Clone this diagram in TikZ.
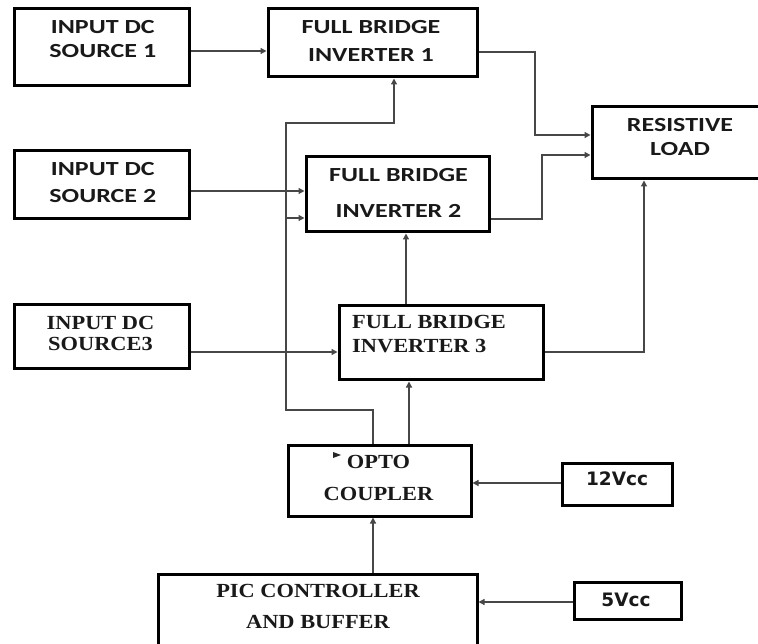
\documentclass[tikz,border=0pt]{standalone}
\usepackage{fontspec}
\usetikzlibrary{arrows.meta}
\newfontfamily\calfont[FakeStretch=1.3]{Carlito}
\newfontfamily\tmsfont[FakeStretch=1.12]{Liberation Serif}
\newfontfamily\vrdfont{DejaVu Sans}
\begin{document}
\begin{tikzpicture}[x=1pt,y=-1pt,
  box/.style={draw=black, line width=3pt, inner sep=0pt, rectangle},
  caltxt/.style={font={\calfont\bfseries\fontsize{20}{#1}\selectfont}, align=center, inner sep=0pt, text=black!90},
  tmstxt/.style={font={\tmsfont\bfseries\fontsize{20}{#1}\selectfont}, align=center, inner sep=0pt, text=black!90},
  vrdtxt/.style={font={\vrdfont\bfseries\fontsize{18.5}{22}\selectfont}, inner sep=0pt, text=black!90},
  conn/.style={draw=black!72, line width=1.3pt},
  arr/.style={conn, -{Triangle[length=6pt,width=6pt]}}
]
\useasboundingbox (0,0) rectangle (758,644);

% boxes
\node[box, minimum width=175pt, minimum height=77pt] (src1) at (101.5,47.5) {};
\node[box, minimum width=209pt, minimum height=68pt] (fb1) at (372.5,43) {};
\node[box, minimum width=175pt, minimum height=68pt] (src2) at (101.5,185) {};
\node[box, minimum width=183pt, minimum height=75pt] (fb2) at (397.5,194.5) {};
\node[box, minimum width=178pt, minimum height=72pt] (rl) at (681,143) {};
\node[box, minimum width=175pt, minimum height=64pt] (src3) at (101.5,337) {};
\node[box, minimum width=204pt, minimum height=74pt] (fb3) at (441,343) {};
\node[box, minimum width=183pt, minimum height=71pt] (opto) at (379.5,480.5) {};
\node[box, minimum width=110pt, minimum height=42pt] (v12) at (617,484) {};
\node[box, minimum width=319pt, minimum height=76pt] (pic) at (317.5,612) {};
\node[box, minimum width=107pt, minimum height=37pt] (v5) at (627.5,600.5) {};

% texts
\node[caltxt=24] (t1) at (102.8,39.5) {INPUT DC\\SOURCE 1};
\node[caltxt=28] (t2) at (371,41) {FULL BRIDGE\\INVERTER 1};
\node[caltxt=27] (t3) at (102.8,182.5) {INPUT DC\\SOURCE 2};
\node[caltxt=36] (t4) at (398.5,193) {FULL BRIDGE\\INVERTER 2};
\node[caltxt=23.5] (t5) at (680,137) {RESISTIVE\\LOAD};
\node[tmstxt=21] (t6) at (100.5,333) {INPUT DC\\SOURCE3};
\node[tmstxt=23.5, align=left, anchor=west] (t7) at (352,334) {FULL BRIDGE\\INVERTER 3};
\node[tmstxt=32] (t8) at (378.5,478) {OPTO\\COUPLER};
\node[tmstxt=31] (t9) at (318,606) {PIC CONTROLLER\\AND BUFFER};
\node[vrdtxt] (t10) at (617,479) {12Vcc};
\node[vrdtxt] (t11) at (626,600) {5Vcc};

% stray marker in opto box
\fill[black!85] (333,452) -- (341,455) -- (333,458) -- cycle;

% connectors
\draw[arr] (src1.east |- 0,51) -- (fb1.west |- 0,51);
\draw[arr] (src2.east |- 0,191) -- (fb2.west |- 0,191);
\draw[arr] (src3.east |- 0,352) -- (fb3.west |- 0,352);

\coordinate (b1a) at (535,52);
\coordinate (b1b) at (535,135);
\draw[arr] (fb1.east |- b1a) -- (b1a) -- (b1b) -- (rl.west |- b1b);
\coordinate (b2a) at (542,219);
\coordinate (b2b) at (542,155);
\draw[arr] (fb2.east |- b2a) -- (b2a) -- (b2b) -- (rl.west |- b2b);
\coordinate (b3a) at (644,352);
\draw[arr] (fb3.east |- b3a) -- (b3a) -- (rl.south -| b3a);

\draw[arr] (fb3.north -| 406,0) -- (fb2.south -| 406,0);
\draw[arr] (opto.north -| 409,0) -- (fb3.south -| 409,0);

\coordinate (l1) at (373,410);
\coordinate (l2) at (286,410);
\coordinate (l3) at (286,123);
\coordinate (l4) at (394,123);
\coordinate (l5) at (286,218);
\draw[arr] (opto.north -| l1) -- (l1) -- (l2) -- (l3) -- (l4) -- (fb1.south -| l4);
\draw[arr] (l5) -- (fb2.west |- l5);

\draw[arr] (pic.north -| 373,0) -- (opto.south -| 373,0);
\draw[arr] (v12.west |- 0,483) -- (opto.east |- 0,483);
\draw[arr] (v5.west |- 0,602) -- (pic.east |- 0,602);
\end{tikzpicture}
\end{document}
